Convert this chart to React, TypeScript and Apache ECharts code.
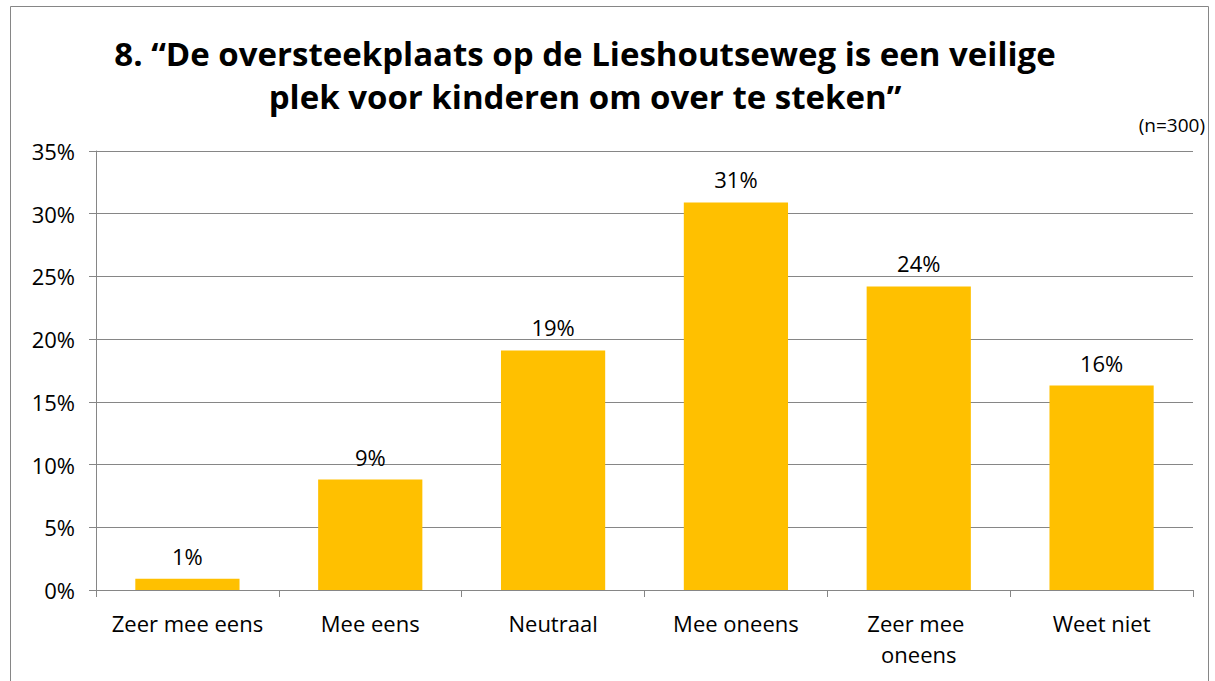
import React, { useEffect, useRef } from "react";
import * as echarts from "echarts";

const categories = ["Zeer mee eens", "Mee eens", "Neutraal", "Mee oneens", "Zeer mee oneens", "Weet niet"];
const values = [0.9, 8.8, 19.1, 30.9, 24.2, 16.3];
const yTicks = [0, 5, 10, 15, 20, 25, 30, 35];
const titleLines = ["8. “De oversteekplaats op de Lieshoutseweg is een veilige", "plek voor kinderen om over te steken”"];
const sampleNote = "(n=300)";

const FONT = "'Open Sans', Lato, sans-serif";

export default function App() {
  const ref = useRef<HTMLDivElement>(null);
  useEffect(() => {
    document.body.style.margin = "0";
    const chart = echarts.init(ref.current!, null, { renderer: "svg" });
    chart.setOption({
      animation: false,
      backgroundColor: "#ffffff",
      textStyle: { fontFamily: FONT },
      title: {
        text: titleLines.join("\n"),
        left: 580,
        top: 27,
        textAlign: "center",
        textStyle: { fontSize: 33, fontWeight: "bold", color: "#000", lineHeight: 43, fontFamily: FONT },
      },
      graphic: [
        {
          type: "rect",
          shape: { x: 10.5, y: 6.5, width: 1198, height: 700 },
          style: { fill: "none", stroke: "#868686", lineWidth: 1 },
          silent: true,
        },
        {
          type: "text",
          right: 10,
          top: 115,
          style: { text: sampleNote, fontSize: 19, fill: "#000", fontFamily: FONT },
        },
      ],
      grid: { left: 96, right: 22, top: 151, bottom: 91, containLabel: false },
      xAxis: {
        type: "category",
        data: categories,
        axisLine: { show: true, lineStyle: { color: "#868686", width: 1 } },
        axisTick: { show: true, length: 7, alignWithLabel: false, lineStyle: { color: "#868686" } },
        axisLabel: {
          color: "#000",
          fontSize: 22,
          margin: 17,
          width: 165,
          overflow: "break",
          lineHeight: 31,
          interval: 0,
          fontFamily: FONT,
        },
      },
      yAxis: {
        type: "value",
        min: 0,
        max: yTicks[yTicks.length - 1],
        interval: 5,
        axisLine: { show: true, lineStyle: { color: "#868686", width: 1 } },
        axisTick: { show: true, length: 7, inside: false, lineStyle: { color: "#868686" } },
        splitLine: { show: true, lineStyle: { color: "#868686", width: 1 } },
        axisLabel: {
          color: "#000",
          fontSize: 22,
          margin: 21,
          formatter: (v: number) => `${v}%`,
          fontFamily: FONT,
        },
      },
      series: [
        {
          type: "bar",
          data: values,
          barCategoryGap: "43%",
          itemStyle: { color: "#FFC000" },
          label: {
            show: true,
            position: "top",
            distance: 12,
            color: "#000",
            fontSize: 22,
            fontFamily: FONT,
            formatter: (p: any) => `${Math.round(p.value)}%`,
          },
        },
      ],
    });
    return () => chart.dispose();
  }, []);
  return <div ref={ref} style={{ width: 1215, height: 681 }} />;
}
